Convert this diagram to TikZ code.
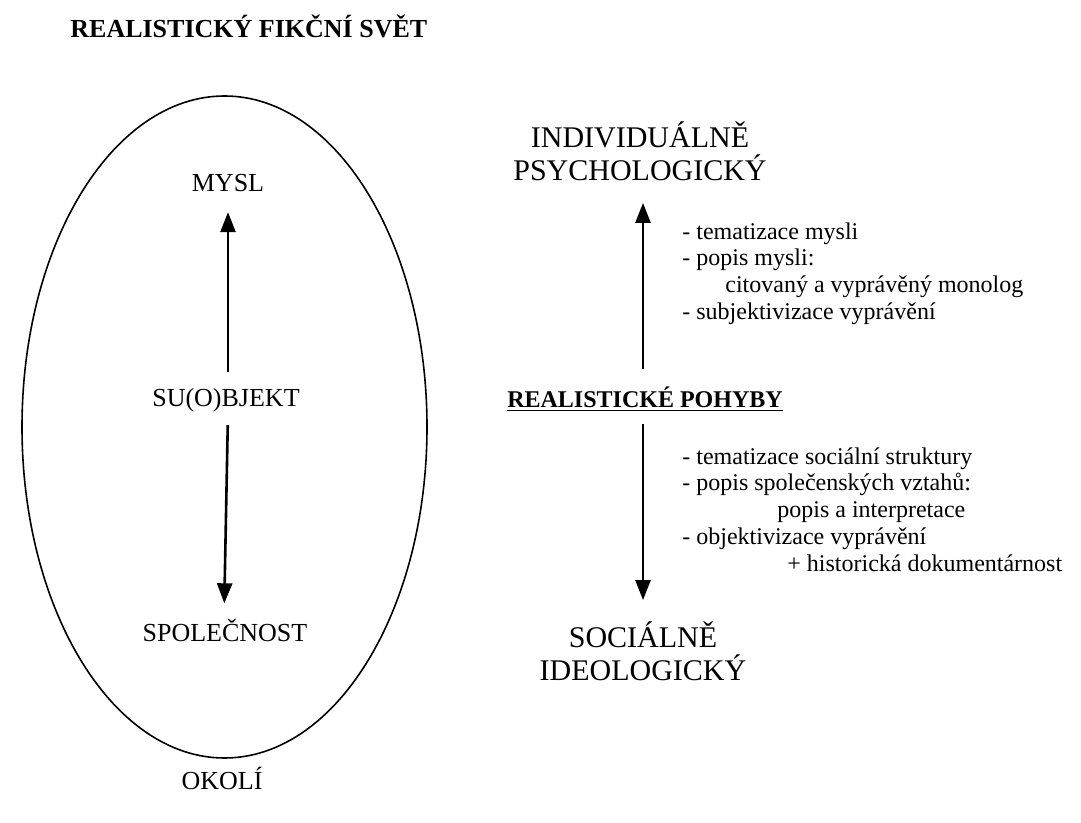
\documentclass[tikz,border=0pt]{standalone}
\usepackage{fontspec}
\setmainfont{Liberation Serif}
\usetikzlibrary{shapes.geometric,arrows.meta}

\begin{document}
\begin{tikzpicture}[x=0.5pt,y=-0.5pt,
    popisek/.style={font=\fontsize{13}{15}\selectfont, inner sep=0pt},
    velky/.style={font=\fontsize{15}{16.5}\selectfont, align=center, inner sep=0pt},
    seznam/.style={font=\fontsize{12}{13.4}\selectfont, align=left, inner sep=0pt},
    sipka/.style={line width=1.3pt, -{Triangle[length=10pt,width=7.5pt]}}]
        \useasboundingbox (0,0) rectangle (1081,823);
        % levy svet
        \node[font=\bfseries\fontsize{13}{15}\selectfont, anchor=base west, inner sep=0pt] (nadpis) at (70,38) {REALISTICKÝ FIKČNÍ SVĚT};
        \node[ellipse, draw, line width=0.8pt, inner sep=0pt, minimum width=202.5pt, minimum height=331pt] (svet) at (224.5,427) {};
        \node[popisek] (mysl) at (228,183) {MYSL};
        \node[popisek] (subjekt) at (226,400) {SU(O)BJEKT};
        \node[popisek] (spolecnost) at (225,630) {SPOLEČNOST};
        \node[popisek] (okoli) at (222,778) {OKOLÍ};
        \draw[sipka, shorten <=8pt, shorten >=10pt] ([xshift=1pt]subjekt.north) -- (mysl.south);
        \draw[sipka, shorten <=6.5pt, shorten >=7.5pt] ([xshift=1pt]subjekt.south) -- ([xshift=-0.5pt]spolecnost.north);
        % pravy sloupec
        \node[velky] (psych) at (640,151) {INDIVIDUÁLNĚ\\PSYCHOLOGICKÝ};
        \node[font=\bfseries\fontsize{12}{14}\selectfont, inner sep=0pt] (pohyby) at (645,399) {\underline{REALISTICKÉ POHYBY}};
        \node[velky] (socio) at (643,651) {SOCIÁLNĚ\\IDEOLOGICKÝ};
        \draw[sipka, shorten <=8.5pt, shorten >=11pt] (pohyby.north -| socio.north) -- (psych.south -| socio.north);
        \draw[sipka, shorten <=6pt, shorten >=10.5pt] (pohyby.south -| socio.north) -- (socio.north);
        \node[seznam, anchor=north west] (popisA) at (682,222) {- tematizace mysli\\- popis mysli:\\\hspace*{21.5pt}citovaný a vyprávěný monolog\\- subjektivizace vyprávění};
        \node[seznam, anchor=north west] (popisB) at (682,447) {- tematizace sociální struktury\\- popis společenských vztahů:\\\hspace*{47.5pt}popis a interpretace\\- objektivizace vyprávění\\\hspace*{52.5pt}+ historická dokumentárnost};
\end{tikzpicture}
\end{document}
